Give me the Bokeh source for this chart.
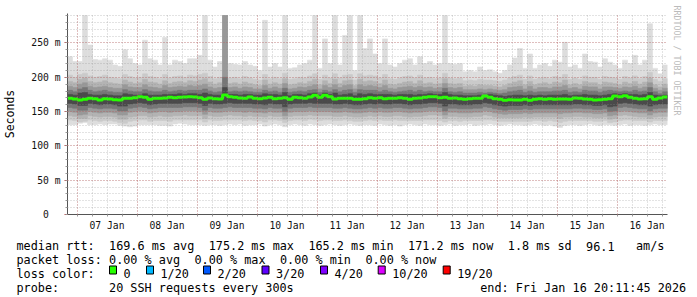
import datetime as dt
from bokeh.plotting import figure
from bokeh.layouts import column
from bokeh.models import (FixedTicker, SingleIntervalTicker, DatetimeTickFormatter, Title, Range1d)
from bokeh.core.properties import value
from bokeh.embed import file_html
from bokeh.resources import INLINE

# ---------------- data (milliseconds) ----------------
START = dt.datetime(2026, 1, 6, 20, 11, 45)
END = dt.datetime(2026, 1, 16, 20, 11, 45)
BIN_HOURS = 2

# median rtt per 2-hour bin
med_ms = [169.3,168.3,166.9,167.9,169.3,168.8,166.9,168.8,168.3,167.4, 166.9,169.3,169.3,170.3,171.8,170.8,167.9,169.3,169.3,169.8,
          170.8,170.3,170.8,171.3,171.8,171.3,170.3,167.9,169.8,168.8, 168.3,174.2,171.8,170.8,169.8,169.3,171.3,169.3,168.8,169.8,
          170.8,168.8,169.3,170.3,167.9,170.8,170.3,169.3,171.3,173.7, 170.8,173.7,171.8,168.3,169.3,169.3,169.3,167.9,167.9,168.8,
          170.3,169.3,170.3,168.8,169.3,169.3,170.3,169.3,167.9,169.3, 169.8,170.8,171.8,171.8,170.3,170.8,169.3,169.8,168.8,167.9,
          168.8,169.3,169.3,172.8,170.8,168.8,167.9,166.5,167.4,166.9, 166.9,167.9,166.5,167.9,168.8,167.9,168.8,167.9,168.3,168.3,
          167.9,169.8,169.3,168.3,167.9,166.9,167.4,167.9,168.8,172.8, 171.8,173.2,170.8,169.3,168.3,168.8,171.8,167.9,169.8,171.2]

# smoke: lowest and highest ping per bin
min_ms = [131,131,133,134,131,131,132,131,132,132, 130,129,128,129,131,131,131,131,130,130,
          129,132,133,132,131,131,131,130,131,131, 130,131,132,131,132,130,131,131,132,129,
          131,132,131,128,131,132,131,130,132,131, 130,131,132,131,130,131,132,131,130,131,
          131,130,132,131,130,131,129,131,132,131, 130,132,131,131,130,131,132,130,131,131,
          132,130,131,131,132,131,130,131,132,131, 131,130,131,132,131,130,131,129,127,130,
          131,131,130,131,132,131,130,131,131,130, 131,132,130,131,131,130,131,132,131,131]
max_ms = [230,223,223,290,247,226,225,227,225,218, 216,240,227,220,218,254,227,225,218,258,
          218,225,223,220,227,227,232,290,225,215, 223,290,220,219,218,223,218,216,210,283,
          215,220,215,290,213,214,218,220,225,290, 213,256,220,290,218,261,290,210,290,242,
          256,234,220,256,218,215,220,225,227,218, 230,220,223,218,220,290,220,219,220,208,
          210,208,215,210,211,208,206,210,218,228, 242,213,234,213,218,220,216,225,222,251,
          215,218,213,234,223,222,215,227,222,218, 213,225,220,232,218,225,278,213,205,218]

# inner smoke bands (pairs of sorted pings, outer to inner)
hi2 = [203,200,204,206,202,200,201,203,200,199, 198,204,201,199,200,205,201,200,198,204,
       199,201,202,200,203,202,204,206,201,198, 200,290,199,200,198,201,199,197,196,204,
       198,200,198,206,197,198,200,199,202,205, 197,203,199,205,199,203,204,196,205,202,
       203,202,199,204,198,197,199,201,202,199, 203,199,200,198,199,206,199,198,199,195,
       196,195,197,196,196,195,194,196,199,201, 203,197,202,197,199,200,198,201,200,204,
       197,199,197,202,200,200,197,201,200,199, 197,201,199,202,198,201,207,197,194,198]
lo2 = [138,137,135,136,138,137,136,137,137,136, 134,133,136,137,138,138,136,137,137,137,
       136,138,138,138,138,138,138,135,138,137, 137,138,138,138,138,137,138,137,137,135,
       138,138,137,134,137,138,138,137,139,138, 137,138,138,137,137,138,137,136,136,137,
       138,137,138,137,137,138,137,137,137,137, 137,138,138,138,137,135,137,137,136,137,
       137,137,137,138,138,137,136,136,136,136, 136,136,136,137,137,136,137,136,134,136,
       137,137,137,137,137,136,136,137,134,135, 137,138,138,137,137,137,135,137,137,137]
hi3 = [194,192,197,199,194,192,193,195,192,191, 190,196,193,191,192,197,193,192,190,195,
       191,193,194,192,195,194,196,198,193,190, 192,290,191,192,190,193,191,189,188,196,
       190,192,190,198,189,190,192,191,194,197, 189,195,191,197,191,195,196,188,197,194,
       195,194,191,196,190,189,191,193,194,191, 195,191,192,190,191,198,191,190,191,187,
       188,187,189,188,188,187,186,188,191,193, 195,189,194,189,191,192,190,193,192,196,
       189,191,189,194,192,192,189,193,192,191, 189,193,191,194,190,193,199,189,186,190]
lo3 = [144,143,140,140,144,143,142,143,143,142, 139,139,142,143,144,144,142,143,144,143,
       143,144,144,145,144,144,144,140,144,143, 143,144,145,144,144,143,144,143,143,142,
       144,143,143,139,143,144,144,144,145,144, 144,144,144,143,143,144,143,142,142,143,
       144,143,144,143,143,144,144,143,142,143, 143,144,145,145,144,140,143,143,142,142,
       142,143,143,145,144,142,141,141,141,141, 141,142,141,142,142,142,142,142,140,142,
       142,143,143,142,142,141,141,142,139,140, 144,145,144,143,142,142,140,142,143,143]
hi4 = [187,185,190,192,187,185,186,187,185,184, 184,189,186,185,185,189,186,185,184,188,
       185,186,187,186,188,187,188,190,186,184, 185,290,185,186,184,186,185,183,183,188,
       184,186,184,191,183,184,186,185,187,189, 183,188,185,189,185,188,189,183,189,187,
       188,187,185,188,184,183,185,186,187,185, 187,185,186,184,185,191,185,184,185,182,
       182,182,183,182,183,182,181,182,185,186, 187,183,187,183,185,185,184,186,186,188,
       184,185,183,187,186,186,183,186,186,185, 184,186,185,187,184,186,192,184,181,184]
lo4 = [150,149,145,146,150,149,148,149,149,148, 145,145,149,150,151,150,148,149,150,150,
       149,150,150,151,151,151,150,146,150,149, 149,150,151,150,150,149,150,149,149,148,
       150,149,149,144,149,150,150,150,151,150, 150,150,150,149,149,150,149,148,148,149,
       150,149,150,149,149,150,150,149,148,149, 149,150,151,151,150,145,149,149,148,148,
       148,149,149,151,150,148,147,146,147,147, 147,148,147,148,148,148,148,148,147,148,
       148,149,149,148,148,147,147,148,144,145, 150,151,150,149,148,148,145,148,149,149]
hi5 = [181,179,183,185,181,179,180,181,179,178, 178,182,180,179,179,182,180,179,179,181,
       179,180,181,180,181,181,181,183,180,178, 179,200,179,180,179,180,179,178,178,181,
       179,180,178,184,178,179,180,179,181,182, 178,181,179,182,179,181,182,178,182,181,
       181,181,179,181,179,178,179,180,181,179, 181,179,180,179,179,184,179,178,179,177,
       177,177,178,177,178,177,176,177,179,180, 181,178,180,178,179,179,179,180,180,181,
       178,179,178,181,180,180,178,180,181,180, 179,180,179,181,179,180,185,179,176,179]
lo5 = [156,155,152,152,156,155,154,155,155,154, 151,151,155,156,157,156,154,155,156,156,
       156,156,156,157,157,157,156,152,156,155, 155,156,157,156,156,156,156,155,155,154,
       156,155,155,150,155,156,156,156,157,156, 156,156,156,155,155,156,155,154,154,155,
       156,155,156,155,155,156,156,155,154,155, 155,156,157,157,156,151,155,155,154,154,
       154,155,155,157,156,154,153,152,153,153, 153,154,153,154,154,154,154,154,154,154,
       154,155,155,154,154,153,153,154,150,151, 156,157,156,155,154,154,151,154,155,155]
hi6 = [175,174,177,178,175,174,174,175,174,173, 173,176,175,174,174,176,174,174,174,175,
       175,175,176,175,176,176,175,177,175,174, 174,185,175,175,174,175,175,174,174,176,
       175,175,174,178,173,175,175,174,176,177, 174,177,175,177,174,175,176,173,176,175,
       176,175,175,175,175,174,175,175,175,174, 175,175,176,175,175,178,175,174,174,173,
       173,173,174,173,175,174,173,172,173,174, 174,173,174,173,174,173,174,174,174,175,
       173,174,174,175,174,174,173,174,175,176, 175,176,175,175,174,175,178,174,173,174]
lo6 = [162,161,159,159,162,161,160,161,161,160, 158,158,161,162,163,162,160,161,162,162,
       162,162,162,163,163,163,162,159,162,161, 161,162,163,162,162,162,162,161,161,160,
       162,161,161,157,161,162,162,162,163,162, 162,162,162,161,161,162,161,160,160,161,
       162,161,162,161,161,162,162,161,160,161, 161,162,163,163,162,158,161,161,160,160,
       160,161,161,163,162,160,159,158,159,159, 159,160,159,160,160,160,160,160,160,160,
       160,161,161,160,160,159,159,160,157,158, 162,163,162,161,160,160,158,160,161,161]

y_tick_labels = {0: "0\u00a0\u00a0", 50: "50 m", 100: "100 m", 150: "150 m", 200: "200 m", 250: "250 m"}

legend_rtt = ["median rtt:", "169.6 ms avg", "175.2 ms max", "165.2 ms min", "171.2 ms now", "1.8 ms sd", "96.1", "am/s"]
legend_rtt_cols = [0, 13, 27, 41, 55, 69, 80, 87]
legend_loss = ["packet loss:", "0.00 % avg", "0.00 % max", "0.00 % min", "0.00 % now"]
legend_loss_cols = [0, 13, 25, 37, 49]
loss_labels = ["0", "1/20", "2/20", "3/20", "4/20", "10/20", "19/20"]
loss_colors = ["#26ff00", "#00b8ff", "#0059ff", "#5e00ff", "#7e00ff", "#dd00ff", "#ff0000"]
probe_text = "20 SSH requests every 300s"
end_text = "end: Fri Jan 16 20:11:45 2026"
credit_text = "RRDTOOL / TOBI OETIKER"

# ---------------- helpers ----------------
UTC = dt.timezone.utc
def ms(d):
    return d.replace(tzinfo=UTC).timestamp() * 1000.0

n = len(med_ms)
t_left = [ms(START + dt.timedelta(hours=BIN_HOURS * i)) for i in range(n)]
t_right = [ms(START + dt.timedelta(hours=BIN_HOURS * (i + 1))) for i in range(n)]

day0 = dt.datetime(2026, 1, 7)
midnights = [ms(day0 + dt.timedelta(days=d)) for d in range(10)]
noons = [ms(day0 + dt.timedelta(days=d, hours=12)) for d in range(10)]
six_hours = [ms(day0 + dt.timedelta(hours=6 * k)) for k in range(40)]

W = 697
MAIN_H = 233
LEG_H = 297 - MAIN_H
FL, FR, FT, FB = 67, 667, 13, 215  # frame edges in page pixels
mono = "DejaVu Sans Mono"

p = figure(width=W, height=MAIN_H, x_axis_type="datetime",
           x_range=(ms(START), ms(END)), y_range=(0, 293),
           output_backend="svg", toolbar_location=None, tools="",
           min_border_left=FL, min_border_right=W - FR,
           min_border_top=FT, min_border_bottom=MAIN_H - FB)
p.frame_align = False
p.outline_line_color = None
p.background_fill_color = "white"
p.border_fill_color = "white"

# smoke layers
layers = [(min_ms, max_ms, "#dddddd"), (lo2, hi2, "#cacaca"), (lo3, hi3, "#b3b3b3"),
          (lo4, hi4, "#989898"), (lo5, hi5, "#767676"), (lo6, hi6, "#4a4a4a")]
for lo, hi, col in layers:
    p.quad(left=t_left, right=t_right, bottom=lo, top=hi,
           fill_color=col, line_color=col, line_width=0.6)

# median
p.step(x=t_left + [t_right[-1]], y=med_ms + [med_ms[-1]], mode="after",
       line_color=loss_colors[0], line_width=3)

# grids
p.xgrid.ticker = FixedTicker(ticks=midnights, minor_ticks=six_hours)
p.ygrid.ticker = SingleIntervalTicker(interval=50, num_minor_ticks=5)
for g in (p.xgrid, p.ygrid):
    g.grid_line_color = "#d04040"
    g.grid_line_alpha = 0.45
    g.grid_line_dash = "1 2"
    g.minor_grid_line_color = "#909090"
    g.minor_grid_line_alpha = 0.5
    g.minor_grid_line_dash = "1 2"
    g.level = "overlay"

# axes
p.xaxis.ticker = FixedTicker(ticks=noons, minor_ticks=six_hours)
fmt = "%d %b"
p.xaxis.formatter = DatetimeTickFormatter(days=fmt, hours=fmt, hourmin=fmt, minutes=fmt,
                                          months=fmt, years=fmt, minsec=fmt, seconds=fmt,
                                          milliseconds=fmt, microseconds=fmt)
p.xaxis.major_tick_line_color = None
p.xaxis.major_tick_out = 2
p.xaxis.minor_tick_line_color = "#999999"
p.xaxis.minor_tick_out = 2
p.xaxis.minor_tick_in = 0
p.xaxis.major_label_standoff = 3

p.yaxis.ticker = SingleIntervalTicker(interval=50, num_minor_ticks=5)
p.yaxis.major_label_overrides = y_tick_labels
p.yaxis.major_tick_line_color = "#c05050"
p.yaxis.major_tick_out = 3
p.yaxis.major_tick_in = 0
p.yaxis.minor_tick_line_color = "#999999"
p.yaxis.minor_tick_out = 2
p.yaxis.minor_tick_in = 0
p.yaxis.major_label_standoff = 4
p.yaxis.axis_label = "Seconds"
p.yaxis.axis_label_text_font = mono
p.yaxis.axis_label_text_font_size = "11.5px"
p.yaxis.axis_label_text_font_style = "normal"
p.yaxis.axis_label_text_color = "black"
p.yaxis.axis_label_standoff = 11

for ax in (p.xaxis, p.yaxis):
    ax.axis_line_color = "#555555"
    ax.major_label_text_font = mono
    ax.major_label_text_font_size = "9.7px"
    ax.major_label_text_color = "#111111"

# vertical credit on the right edge
p.add_layout(Title(text=credit_text, align="left", offset=-8, standoff=9,
                   text_font=mono, text_font_size="8.3px", text_font_style="normal",
                   text_color="#bbbbbb"), "right")

# ---------------- legend block under the graph (pixel layout) ----------------
leg = figure(width=W, height=LEG_H, x_range=Range1d(0, W), y_range=Range1d(LEG_H, 0),
             output_backend="svg", toolbar_location=None, tools="",
             x_axis_location=None, y_axis_location=None,
             min_border_left=0, min_border_right=0, min_border_top=0, min_border_bottom=0)
leg.frame_align = False
leg.outline_line_color = None
leg.grid.visible = False
leg.background_fill_color = "white"
leg.border_fill_color = "white"

CW = 7.12
X0 = 16
def row_y(cy):
    return cy - MAIN_H

tx, ty, tt = [], [], []
for txt, c in zip(legend_rtt, legend_rtt_cols):
    tx.append(X0 + CW * c); ty.append(row_y(245.5)); tt.append(txt)
for txt, c in zip(legend_loss, legend_loss_cols):
    tx.append(X0 + CW * c); ty.append(row_y(259.3)); tt.append(txt)
tx.append(X0); ty.append(row_y(273.2)); tt.append("loss color:")
square_x = [109, 146, 203, 261.5, 320, 377.7, 442.7]
for sx, txt in zip(square_x, loss_labels):
    tx.append(sx + 14); ty.append(row_y(273.2)); tt.append(txt)
tx.append(X0); ty.append(row_y(287.2)); tt.append("probe:")
tx.append(X0 + CW * 13); ty.append(row_y(287.2)); tt.append(probe_text)
tx.append(479.7); ty.append(row_y(287.2)); tt.append(end_text)

leg.quad(left=square_x, right=[s + 7 for s in square_x],
         top=[row_y(265.5)] * len(square_x), bottom=[row_y(273.5)] * len(square_x),
         fill_color=loss_colors, line_color="black", line_width=1)
leg.text(x=tx, y=ty, text=tt, text_font=value(mono), text_font_size=value("11.8px"),
         text_color="black", text_baseline="alphabetic", text_align="left")

layout = column(p, leg, spacing=0)
open("out.html", "w").write(file_html(layout, INLINE))
